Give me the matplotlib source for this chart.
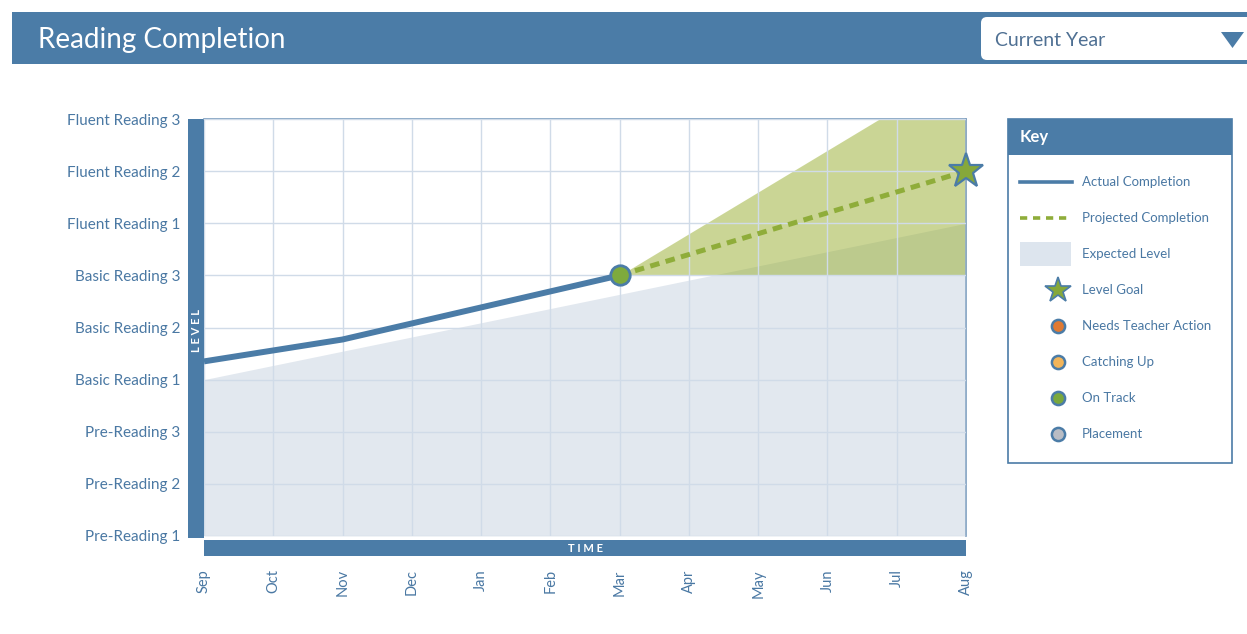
import matplotlib
matplotlib.use("Agg")
import matplotlib.pyplot as plt
from matplotlib.patches import Rectangle, FancyBboxPatch, Polygon

plt.rcParams['font.family'] = ['Lato', 'DejaVu Sans']

# data
months = ['Sep', 'Oct', 'Nov', 'Dec', 'Jan', 'Feb', 'Mar', 'Apr', 'May', 'Jun', 'Jul', 'Aug']
levels = ['Pre-Reading 1', 'Pre-Reading 2', 'Pre-Reading 3',
          'Basic Reading 1', 'Basic Reading 2', 'Basic Reading 3',
          'Fluent Reading 1', 'Fluent Reading 2', 'Fluent Reading 3']

actual_month = [0, 2, 6]
actual_level = [3.35, 3.77, 5.0]

expected_month = [0, 11]
expected_level = [3.0, 6.0]

projected_month = [6, 11]
projected_level = [5.0, 7.0]

band_month = [6, 9.75, 11]
band_low = [5.0, 5.0, 5.0]
band_high = [5.0, 8.0, 8.0]

goal_month = 11
goal_level = 7.0

key_labels = ['Actual Completion', 'Projected Completion', 'Expected Level', 'Level Goal',
              'Needs Teacher Action', 'Catching Up', 'On Track', 'Placement']
status_colors = ['#e07a33', '#f2b55a', '#7aa83c', '#b8bcc4']

BLUE = '#4b7ca7'
TEXT = '#4a78a3'
GRID = '#d0dbe8'
GREEN_LINE = '#8fad3a'
W, H = 1247, 634

fig = plt.figure(figsize=(W / 100, H / 100), dpi=100)

# background canvas in pixel coordinates
bg = fig.add_axes([0, 0, 1, 1])
bg.set_xlim(0, W)
bg.set_ylim(H, 0)
bg.axis('off')

# header
bg.add_patch(Rectangle((12, 12), W - 12, 52, color=BLUE, lw=0))
bg.text(38, 40, 'Reading Completion', color='white', fontsize=20, va='center', ha='left')
bg.add_patch(FancyBboxPatch((984, 20), 280, 37, boxstyle='round,pad=3,rounding_size=6',
                            fc='white', ec='none'))
bg.text(995, 40, 'Current Year', color='#4f7093', fontsize=14, va='center', ha='left')
bg.add_patch(Polygon([[1221, 32], [1244, 32], [1232.5, 48]], closed=True, color=BLUE, lw=0))

# axis bars
bg.add_patch(Rectangle((188, 119), 16, 419, color=BLUE, lw=0))
bg.add_patch(Rectangle((204, 540), 762, 16, color=BLUE, lw=0))
bg.text(196, 331, 'L E V E L', color='white', fontsize=8, fontweight='bold',
        rotation=90, ha='center', va='center')
bg.text(585, 548, 'T I M E', color='white', fontsize=8, fontweight='bold',
        ha='center', va='center')

# key box
bg.add_patch(Rectangle((1008, 119), 224, 344, fc='white', ec=BLUE, lw=1.2))
bg.add_patch(Rectangle((1008, 119), 224, 36, color=BLUE, lw=0))
bg.text(1020, 137, 'Key', color='white', fontsize=12, fontweight='bold', va='center')
row_y = [182 + 36 * i for i in range(len(key_labels))]
bg.plot([1020, 1072], [row_y[0]] * 2, color=BLUE, lw=2.6)
bg.plot([1020, 1072], [row_y[1]] * 2, color=GREEN_LINE, lw=2.6, dashes=(2.0, 1.6))
bg.add_patch(Rectangle((1020, row_y[2] - 12), 51, 24, color='#dde5ee', lw=0))
bg.plot(1058, row_y[3], marker='*', ms=19, mfc='#86a83a', mec=BLUE, mew=1.2)
for c, y in zip(status_colors, row_y[4:]):
    bg.plot(1058, y, marker='o', ms=9.5, mfc=c, mec=BLUE, mew=1.8)
for lab, y in zip(key_labels, row_y):
    bg.text(1082, y, lab, color=TEXT, fontsize=9.5, va='center', ha='left')

# chart axes
ax = fig.add_axes([204 / W, 1 - 536 / H, (966 - 204) / W, (536 - 119) / H])
ax.set_xlim(0, len(months) - 1)
ax.set_ylim(0, len(levels) - 1)
ax.set_facecolor('white')

ax.set_xticks(range(len(months)))
ax.set_xticklabels(months, rotation=90, color=TEXT, fontsize=10.5)
ax.set_yticks(range(len(levels)))
ax.set_yticklabels(levels, color=TEXT, fontsize=11)
ax.tick_params(axis='x', length=0, pad=24)
ax.tick_params(axis='y', length=0, pad=17)
ax.grid(True, color=GRID, lw=1)
ax.set_axisbelow(False)
for side in ['left', 'bottom']:
    ax.spines[side].set_visible(False)
for side in ['top', 'right']:
    ax.spines[side].set_color('#7f9fc0')
    ax.spines[side].set_linewidth(1.2)

ax.fill_between(expected_month, 0, expected_level, color='#e2e8ef', lw=0, zorder=1)
ax.fill_between(band_month, band_low, band_high, color='#97ad2d', alpha=0.5, lw=0, zorder=1.5)

ax.plot(actual_month, actual_level, color=BLUE, lw=4.3, solid_capstyle='butt', zorder=4)
ax.plot(projected_month, projected_level, color=GREEN_LINE, lw=3.6, dashes=(1.9, 1.3), zorder=4)
ax.plot(actual_month[-1], actual_level[-1], marker='o', ms=14, mfc='#7eaa3c', mec=BLUE,
        mew=2, zorder=5, clip_on=False)
ax.plot(goal_month, goal_level, marker='*', ms=26, mfc='#86a83a', mec=BLUE, mew=1.6,
        zorder=5, clip_on=False)

fig.savefig('out.png', dpi=100)
